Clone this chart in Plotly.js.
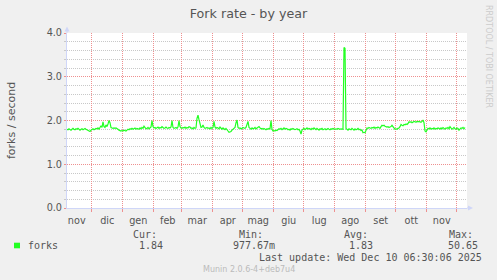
<!DOCTYPE html>
<html>
<head>
<meta charset="utf-8">
<script src="https://cdn.plot.ly/plotly-3.0.1.min.js"></script>
<style>
  html, body { margin: 0; padding: 0; background: #F0F0F0; }
  #chart { width: 497px; height: 280px; }
</style>
</head>
<body>
<div id="chart"></div>
<script>
// ---- data (daily averages, first sample 2024-11-06) ----
const firstDay = '2024-11-06 06:00';
const dayMs = 86400000;
const forks = [
  1.80,1.79,1.81,1.80,1.78,1.80,1.82,1.80,1.79,1.81,
  1.80,1.82,1.79,1.78,1.80,1.81,1.79,1.80,1.82,1.80,
  1.79,1.78,1.76,1.75,1.78,1.80,1.81,1.79,1.80,1.82,
  1.81,1.83,1.80,1.84,1.88,1.84,1.97,1.86,1.84,1.90,
  1.86,1.92,2.00,1.95,1.84,1.83,1.82,1.83,1.82,1.83,
  1.82,1.80,1.78,1.77,1.76,1.77,1.76,1.78,1.77,1.76,
  1.78,1.80,1.79,1.81,1.80,1.82,1.80,1.81,1.83,1.80,
  1.82,1.81,1.80,1.83,1.81,1.84,1.82,1.87,1.83,1.81,
  1.82,1.84,1.81,1.83,1.85,2.00,1.86,1.83,1.84,1.82,
  1.83,1.85,1.82,1.84,1.83,1.86,1.84,1.82,1.83,1.85,
  1.83,1.82,1.84,1.83,1.85,2.00,1.84,1.82,1.83,1.84,
  1.82,1.85,2.00,1.86,1.83,1.82,1.84,1.83,1.85,1.82,
  1.84,1.83,1.86,1.85,1.82,1.83,1.81,1.84,1.82,1.83,
  2.05,2.12,2.02,1.88,1.84,1.85,1.90,1.84,1.82,1.83,
  1.84,1.82,1.83,1.81,1.84,1.82,1.84,1.98,1.85,1.82,
  1.84,1.83,1.81,1.85,1.82,1.80,1.83,1.81,1.79,1.82,
  1.80,1.76,1.73,1.74,1.75,1.78,1.80,1.81,1.84,1.95,
  2.01,1.84,1.82,1.83,1.81,1.82,1.84,1.83,1.82,1.84,
  1.90,1.98,1.84,1.82,1.80,1.83,1.81,1.82,1.84,1.81,
  1.83,1.84,1.86,1.83,1.81,1.82,1.80,1.82,1.81,1.79,
  1.81,1.80,1.82,1.81,2.00,1.80,1.76,1.77,1.76,1.78,
  1.77,1.79,1.81,1.80,1.82,1.79,1.81,1.83,1.80,1.82,
  1.81,1.79,1.80,1.78,1.81,1.80,1.82,1.80,1.79,1.80,
  1.81,1.79,1.80,1.76,1.69,1.78,1.80,1.82,1.79,1.81,
  1.83,1.80,1.82,1.81,1.79,1.82,1.80,1.83,1.81,1.79,
  1.82,1.80,1.78,1.81,1.80,1.82,1.79,1.80,1.81,1.79,
  1.80,1.82,1.80,1.79,1.81,1.80,1.82,1.81,1.80,1.81,
  1.80,1.82,1.81,1.80,1.81,1.80,1.80,3.67,3.65,1.82,
  1.80,1.78,1.81,1.80,1.79,1.82,1.80,1.78,1.81,1.79,
  1.80,1.82,1.79,1.80,1.77,1.78,1.72,1.73,1.72,1.76,
  1.83,1.82,1.84,1.83,1.82,1.84,1.83,1.85,1.82,1.84,
  1.83,1.85,1.84,1.82,1.86,1.89,1.88,1.89,1.87,1.85,
  1.85,1.86,1.84,1.85,1.86,1.89,1.86,1.82,1.80,1.81,
  1.80,1.82,1.83,1.86,1.91,1.89,1.88,1.91,1.90,1.92,
  1.91,1.93,1.97,1.96,1.97,1.95,1.96,1.98,1.97,1.96,
  1.98,1.97,1.98,1.97,1.96,1.98,2.01,1.95,1.76,1.74,
  1.79,1.82,1.81,1.83,1.80,1.82,1.81,1.83,1.80,1.82,
  1.81,1.83,1.82,1.80,1.83,1.81,1.84,1.82,1.80,1.83,
  1.82,1.84,1.81,1.86,1.83,1.80,1.82,1.84,1.81,1.80,
  1.83,1.82,1.78,1.81,1.83,1.82,1.84,1.81,1.84
];
const xRange = ['2024-11-06 06:00', '2025-12-11 06:00'];
const yRange = [0, 4];

// tick labels (Italian short months)
const shortMonths = ['gen','feb','mar','apr','mag','giu','lug','ago','set','ott','nov','dic'];
const longMonths = ['gennaio','febbraio','marzo','aprile','maggio','giugno','luglio','agosto','settembre','ottobre','novembre','dicembre'];

// legend texts
const seriesName = 'forks';
const statLabels = ['Cur:', 'Min:', 'Avg:', 'Max:'];
const statValues = ['1.84', '977.67m', '1.83', '50.65'];
const titleText = 'Fork rate - by year';
const yTitle = 'forks / second';
const lastUpdate = 'Last update: Wed Dec 10 06:30:06 2025';
const footer = 'Munin 2.0.6-4+deb7u4';
const watermark = 'RRDTOOL / TOBI OETIKER';

Plotly.register({
  moduleType: 'locale', name: 'it', dictionary: {},
  format: {
    days: ['domenica','lunedì','martedì','mercoledì','giovedì','venerdì','sabato'],
    shortDays: ['dom','lun','mar','mer','gio','ven','sab'],
    months: longMonths, shortMonths: shortMonths
  }
});

// ---- layout helpers (pixel -> paper) ----
const W = 497, H = 280, L = 67, R = 467, T = 33, B = 208;
const px = x => (x - L) / (R - L);
const py = y => (B - y) / (B - T);

const SERIES = '#22ff22';
const TXT = '#555555';
const AXIS = '#CFD6F8';
const MGRID = '#EE9090';
const GRID = '#C8C8C8';
const SANS = 'DejaVu Sans, sans-serif';
const MONO = 'DejaVu Sans Mono, monospace';

const statX = [131.7, 237.7, 343.3, 447.7];
const valX = [137.7, 231.7, 348.3, 447.3];

const annotations = [];
function txt(text, x, y, opts) {
  annotations.push(Object.assign({
    text: text, xref: 'paper', yref: 'paper', x: px(x), y: py(y),
    xanchor: 'left', yanchor: 'middle', showarrow: false, borderpad: 0,
    font: { family: MONO, size: 10, color: TXT }
  }, opts || {}));
}
statLabels.forEach((s, i) => txt(s, statX[i], 234));
txt(seriesName, 26.7, 245.7);
statValues.forEach((s, i) => txt(s, valX[i], 245.7));
txt(lastUpdate, 483, 257.7, { xanchor: 'right' });
txt(footer, 249, 269.5, { xanchor: 'center', font: { family: SANS, size: 8, color: '#BBBBBB' } });
txt(watermark, 488.5, 56.5, { xanchor: 'center', textangle: 90, font: { family: SANS, size: 8, color: '#CCCCCC' } });
txt(yTitle, 11, 120, { xanchor: 'center', textangle: -90, font: { family: SANS, size: 11, color: TXT } });

const shapes = [
  // legend colour box
  { type: 'rect', xref: 'paper', yref: 'paper', x0: px(14), x1: px(20), y0: py(242.7), y1: py(248.3),
    fillcolor: SERIES, line: { width: 0 } },
  // y axis arrow
  { type: 'line', xref: 'paper', yref: 'paper', x0: 0, x1: 0, y0: 1, y1: py(30), line: { color: AXIS, width: 1 } },
  { type: 'path', xref: 'paper', yref: 'paper',
    path: `M ${px(L-2.5)} ${py(31.5)} L ${px(L+2.5)} ${py(31.5)} L ${px(L)} ${py(26.5)} Z`,
    fillcolor: AXIS, line: { width: 0 } },
  // x axis arrow
  { type: 'line', xref: 'paper', yref: 'paper', x0: 1, x1: px(469), y0: 0, y1: 0, line: { color: AXIS, width: 1 } },
  { type: 'path', xref: 'paper', yref: 'paper',
    path: `M ${px(468)} ${py(B-2.5)} L ${px(468)} ${py(B+2.5)} L ${px(473)} ${py(B)} Z`,
    fillcolor: AXIS, line: { width: 0 } }
];

const data = [{
  type: 'scatter', mode: 'lines', name: seriesName,
  x0: firstDay, dx: dayMs, y: forks,
  line: { color: SERIES, width: 1.2 },
  hoverinfo: 'skip'
}];

const layout = {
  width: W, height: H,
  margin: { l: L, r: W - R, t: T, b: H - B, pad: 0 },
  paper_bgcolor: '#F0F0F0', plot_bgcolor: '#FFFFFF',
  showlegend: false,
  title: {
    text: titleText, xref: 'container', yref: 'container', x: 0.5, y: 1 - 14 / H,
    xanchor: 'center', yanchor: 'middle',
    font: { family: SANS, size: 12.7, color: TXT }
  },
  xaxis: {
    type: 'date', range: xRange, fixedrange: true,
    dtick: 'M1', tick0: '2024-12-01', ticklabelmode: 'period', tickformat: '%b',
    showgrid: true, gridcolor: MGRID, griddash: '1px,1px', gridwidth: 1,
    ticks: 'outside', ticklen: 3, tickcolor: MGRID, tickwidth: 1,
    showline: true, linecolor: AXIS, linewidth: 1, zeroline: false,
    tickfont: { family: SANS, size: 9.7, color: TXT }
  },
  yaxis: {
    range: yRange, fixedrange: true, dtick: 1, tick0: 0, tickformat: '.1f',
    showgrid: true, gridcolor: MGRID, griddash: '1px,1px', gridwidth: 1,
    ticks: 'outside', ticklen: 2, tickcolor: MGRID,
    showline: true, linecolor: AXIS, linewidth: 1, zeroline: false,
    tickfont: { family: SANS, size: 9.7, color: TXT },
    minor: { dtick: 0.2, showgrid: true, gridcolor: GRID, griddash: '1px,1px', gridwidth: 1,
             ticks: 'outside', ticklen: 2, tickcolor: GRID }
  },
  annotations: annotations,
  shapes: shapes
};

Plotly.newPlot('chart', data, layout, { locale: 'it', staticPlot: true, displayModeBar: false });
</script>
</body>
</html>
